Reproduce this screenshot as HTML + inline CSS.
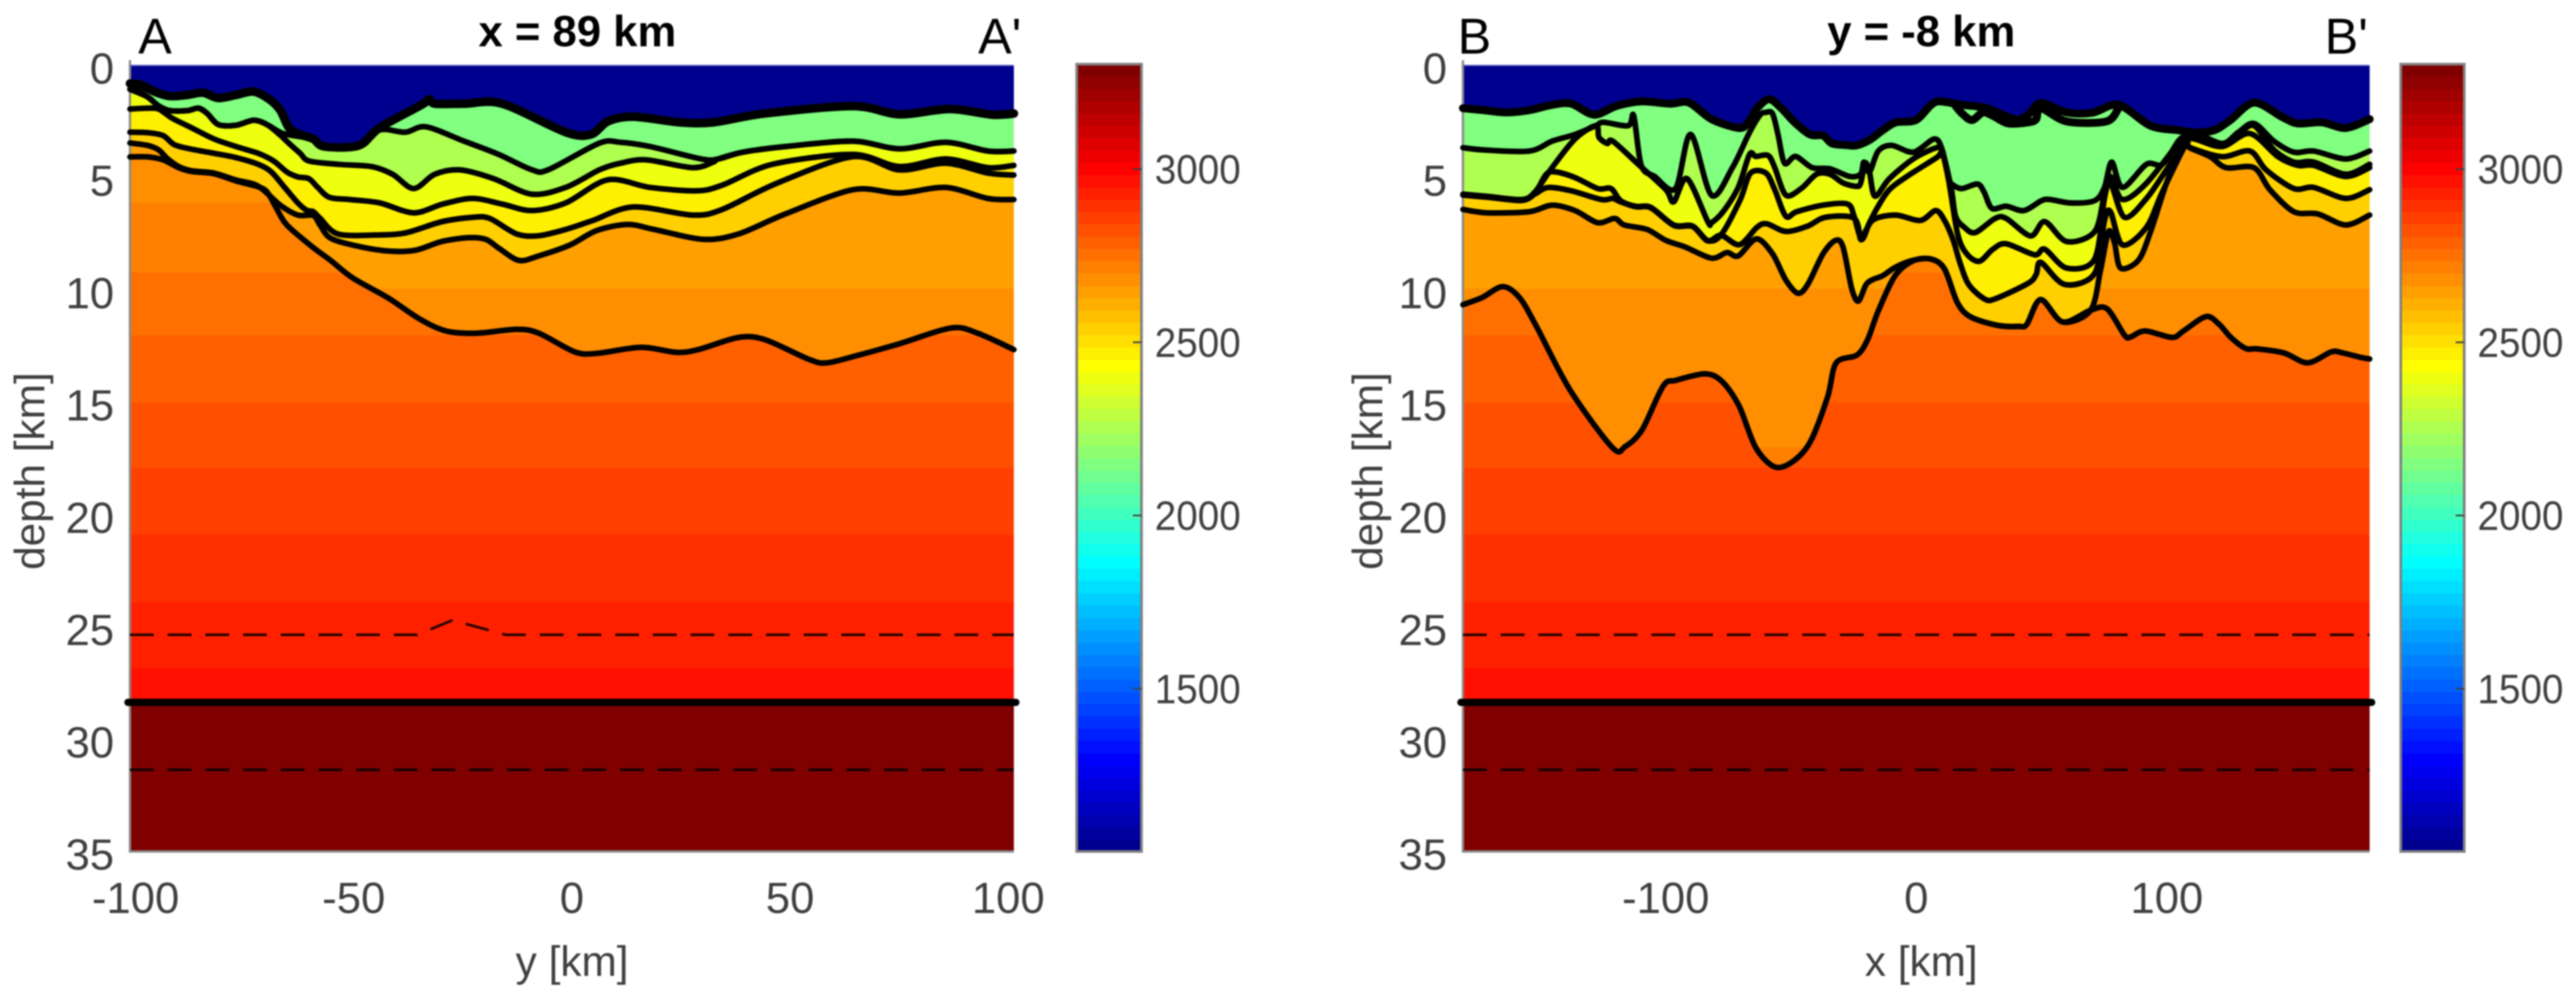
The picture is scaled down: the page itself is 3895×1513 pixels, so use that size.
<!DOCTYPE html>
<html lang="en">
<head>
<meta charset="utf-8">
<title>Velocity cross-sections</title>
<style>
html,body{margin:0;padding:0;background:#fff;}
#figure{display:block;width:3895px;height:1513px;filter:blur(1px);}
text{font-family:"Liberation Sans",Arial,sans-serif;}
.tick{font-size:66px;fill:#404040;}
.cbtick{font-size:62px;fill:#404040;}
.axis-title{font-size:64px;fill:#404040;}
.title{font-size:66px;font-weight:bold;fill:#000;}
.endpoint{font-size:76px;fill:#000;}
</style>
</head>
<body>
<svg id="figure" xmlns="http://www.w3.org/2000/svg" width="3895" height="1513" viewBox="0 0 3895 1513">
  <rect x="0" y="0" width="3895" height="1513" fill="#fff"/>
  <g id="panelA"></g>
  <g id="panelB"></g>
  <text class="title" x="873" y="70" text-anchor="middle">x = 89 km</text>
  <text class="title" x="2905" y="70" text-anchor="middle">y = -8 km</text>
  <text class="endpoint" x="209" y="81">A</text>
  <text class="endpoint" x="1479" y="81">A'</text>
  <text class="endpoint" x="2204" y="81">B</text>
  <text class="endpoint" x="3515" y="81">B'</text>
  <text class="axis-title" x="865" y="1475" text-anchor="middle">y [km]</text>
  <text class="axis-title" x="2905" y="1475" text-anchor="middle">x [km]</text>
  <text class="axis-title" transform="translate(67 712) rotate(-90)" text-anchor="middle">depth [km]</text>
  <text class="axis-title" transform="translate(2090 712) rotate(-90)" text-anchor="middle">depth [km]</text>
</svg>
<script>
/* ---------- shared axis values ---------- */
const depthTicks = [0,5,10,15,20,25,30,35];
const colorbarTicks = [1500,2000,2500,3000];
const xTicksA = [-100,-50,0,50,100];
const xTicksB = [-100,0,100];
const velocityMin = 1030;
const velocityMax = 3303;
const depthMax = 35;

/* ---------- layer velocities (m/s) ---------- */
const waterVelocity = 1048;
const layerVelocities = [2148,2254,2397,2468,2539];
const upperBandDepths = [0,9.93,17,35];
const upperBandVelocities = [2646,2681,2717];
const lowerBandDepths = [0,6.1,9.22,12.02,15,17.91,20.89,23.9,26.84,35];
const lowerBandVelocities = [2681,2717,2752,2788,2823,2859,2894,2930,2965];
const mantleVelocity = 3285;
const mohoDepth = 28.36;

/* ---------- dashed reflectors ---------- */
const dashUpperA = [[-100,25.35],[-35,25.35],[-27,24.7],[-15,25.35],[100,25.35]];
const dashLowerA = [[-100,31.36],[100,31.36]];
const dashUpperB = [[-180,25.35],[180,25.35]];
const dashLowerB = [[-180,31.36],[180,31.36]];

/* ---------- section A horizons: [y km, depth km] ---------- */
const seafloorA = [[-100,.8],[-97.5,.86],[-94.5,1.16],[-91,1.36],[-87,1.31],[-83.5,1.21],[-80,1.45],[-76,1.31],[-72,1.16],[-68.5,1.5],[-66,1.99],[-64,2.78],[-61.5,3.07],[-58.5,3.27],[-56,3.61],[-48.2,3.56],[-43.5,2.77],[-34,1.75],[-32.3,1.5],[-31,1.7],[-24.4,1.7],[-15.8,1.7],[-1.4,2.97],[4.3,3.07],[8.2,2.48],[13.9,2.28],[24.4,2.53],[32,2.53],[43.5,2.14],[63.6,1.81],[74.1,2.17],[85.5,1.94],[95.1,2.19],[100,2.14]];
const horizon1A = [[-100,1.06],[-98,1.16],[-96,1.4],[-93.5,1.8],[-91,2.01],[-87,2.01],[-84.5,1.9],[-82.5,2.14],[-80,2.63],[-76,2.66],[-72,2.44],[-69,2.63],[-65.5,3.02],[-61.5,3.17],[-58.5,3.29],[-55.4,3.64],[-48.2,3.58],[-43.5,2.87],[-37.7,2.97],[-33,2.73],[-24.4,3.37],[-16.7,3.95],[-9.1,4.64],[-5.3,4.64],[6.2,3.46],[11,3.42],[17.7,3.61],[29.2,4.16],[33,4.17],[38.7,3.86],[48.3,3.61],[63.6,3.37],[74.1,3.71],[84.6,3.42],[94.1,3.81],[100,3.81]];
const horizon2A = [[-100,1.06],[-96,1.4],[-93.5,1.8],[-91,2.01],[-87,2.01],[-84.5,1.9],[-82.5,2.14],[-80,2.63],[-76,2.66],[-72,2.44],[-69,2.63],[-66,3.1],[-64,3.47],[-61.5,3.91],[-59.5,4.25],[-53,4.4],[-45.4,4.5],[-40.6,4.84],[-35.8,5.48],[-31,4.84],[-25.3,4.65],[-17.7,5.04],[-9.1,5.73],[-1.4,5.43],[6.2,4.65],[11,4.35],[16.8,4.2],[27.3,4.55],[32,4.3],[33,4.17],[38.7,3.86],[48.3,3.61],[63.6,3.37],[74.1,3.71],[84.6,3.42],[94.1,3.81],[100,3.81]];
const horizon3A = [[-100,1.94],[-96,1.9],[-93.5,1.94],[-90.5,2.34],[-86,2.78],[-81,3.27],[-76,3.61],[-71,3.91],[-67.5,4.25],[-64.5,4.74],[-62,4.96],[-59.5,5.04],[-57.5,5.43],[-54.9,5.87],[-50.2,5.97],[-43.5,6.12],[-35.8,6.56],[-29.2,6.17],[-22.5,5.92],[-15.8,6.17],[-9.1,6.46],[-1.4,6.12],[8.1,5.09],[17.7,5.43],[28.2,5.58],[34,5.33],[45.4,4.4],[63.6,3.96],[74.1,4.5],[84.6,4.16],[94.1,4.55],[100,4.45]];
const horizon4A = [[-100,2.97],[-96,2.99],[-92.5,3.12],[-90,3.52],[-86.5,3.71],[-81,3.91],[-76,4.1],[-71,4.4],[-68,4.74],[-65,5.43],[-62,6.12],[-60,6.45],[-58.5,6.51],[-57,6.8],[-53,7.5],[-44.6,7.55],[-37.6,7.45],[-29.5,6.96],[-22.5,6.76],[-18.6,6.81],[-12.5,7.5],[-7.5,7.58],[-1.4,7.3],[4.6,6.91],[13.9,6.3],[27.3,6.66],[34,6.41],[46.4,5.24],[63.6,4.06],[74.1,4.65],[84.6,4.35],[94.1,4.79],[100,4.88]];
const horizon5A = [[-100,3.45],[-96,3.56],[-93.5,3.76],[-91.5,4.15],[-89,4.5],[-86,4.69],[-81,4.79],[-76,5.1],[-71,5.37],[-66,6.22],[-62,6.66],[-58.5,6.68],[-57,7.1],[-54.6,7.69],[-48.6,8.04],[-41.6,8.26],[-35.5,8.23],[-29.5,7.84],[-23.5,7.67],[-19.5,7.74],[-16.5,8.14],[-12,8.68],[-7.5,8.48],[-0.4,7.99],[5.6,7.35],[12.6,7.08],[18.6,7.3],[29.7,7.74],[37.7,7.5],[48.3,6.61],[63.6,5.53],[74.1,5.68],[84.6,5.43],[94.1,5.92],[100,5.97]];
const basementA = [[-100,4.07],[-96,4.07],[-92.5,4.2],[-89,4.55],[-86,4.72],[-81,4.82],[-76,5.14],[-71,5.4],[-69,5.63],[-67,6.3],[-64.5,7.1],[-58.7,8.08],[-54.6,8.68],[-49.6,9.46],[-41.6,10.35],[-34.5,11.28],[-28.5,11.82],[-21.5,11.92],[-12.5,11.75],[-7.5,11.92],[0.6,12.75],[5.6,12.82],[15.6,12.55],[23.6,12.77],[28.6,12.65],[37.7,12.11],[43.7,12.21],[53.7,13.09],[57.7,13.24],[64.8,12.9],[73.8,12.41],[85.8,11.69],[91.8,11.92],[100,12.65]];

/* ---------- section B horizons: [x km, depth km] ---------- */
const seafloorB = [[-180,1.9],[-171.7,1.99],[-162.7,2.09],[-153.6,1.99],[-144.6,1.75],[-137,1.7],[-128,2.19],[-119,1.8],[-109.2,1.6],[-97.8,1.7],[-90.3,1.65],[-81.3,2.39],[-70.5,2.78],[-66.7,2.53],[-63.2,1.9],[-58.4,1.5],[-53.6,1.9],[-48.3,2.53],[-42.2,3.07],[-37,3.12],[-33.5,3.47],[-28.2,3.54],[-23.8,3.56],[-18.6,3.32],[-13.3,2.88],[-8.1,2.53],[-0.2,2.43],[5.9,1.75],[9.4,1.6],[18.2,1.75],[28,1.9],[39.1,2.4],[44.4,2.19],[49.5,1.67],[59.7,2.09],[70,2.1],[80.3,1.75],[93,2.68],[104,2.88],[110.4,2.98],[118.3,2.88],[124.6,2.44],[134.1,1.65],[145.2,2.29],[151.5,2.58],[161,2.53],[170.5,2.78],[180,2.39]];
const shallowB = [[15.6,1.8],[18.2,2.14],[22.1,2.43],[26.5,2.09],[30.4,2.24],[36.6,2.58],[44.4,2.53],[47.5,2.4],[49.5,1.9],[59.7,2.49],[75.5,2.49],[80.3,1.9]];
const horizon1B = [[-180,3.66],[-171.7,3.76],[-153.6,3.81],[-144.6,3.37],[-135.5,3.07],[-127.2,2.68],[-124.2,2.53],[-114.4,2.68],[-112.2,2.24],[-109.2,4.45],[-103.9,4.94],[-95.6,5.48],[-89.6,3.07],[-81.3,5.78],[-73,4.55],[-66.2,2.98],[-62,2.2],[-59.7,2.09],[-57.1,2.14],[-54.9,3.07],[-52.3,4.35],[-47.9,4.05],[-41.3,4.55],[-34.3,4.6],[-26.5,4.94],[-22.1,4.84],[-20.8,4.3],[-18.6,4.74],[-15.1,3.81],[-9.8,3.56],[-1.1,3.86],[7.2,3.27],[10.3,3.76],[12.9,5.04],[14.7,5.33],[18.2,5.48],[24.3,5.28],[26.9,5.63],[30,6.36],[35.7,6.27],[42.7,6.46],[49.7,6.02],[53.2,5.97],[61.3,6.12],[70.8,6.02],[74.7,5.43],[77.6,4.3],[81.9,5.43],[91.4,4.4],[97.7,4.4],[104,3.37],[106.4,3.17],[110.4,2.98],[121.4,3.47],[127.8,2.98],[134.1,2.58],[142,3.37],[149.9,3.86],[157.8,3.81],[170.5,4.16],[180,3.81]];
const horizon2B = [[-180,5.73],[-170.2,5.83],[-156.6,5.97],[-151.4,5.63],[-144.6,4.55],[-135.5,3.27],[-127.2,2.68],[-126,3.2],[-122.7,3.47],[-120.5,3.37],[-109.9,4.45],[-99.4,5.53],[-96.3,6.07],[-91,5.04],[-82.8,6.95],[-81.3,7],[-76.7,6.51],[-70.7,5.43],[-66.2,3.96],[-63.7,4.05],[-58.8,4.01],[-56.2,4.55],[-51.8,5.77],[-45.7,5.48],[-39.6,4.84],[-34.3,4.84],[-29.1,5.23],[-23.8,5.38],[-22.1,5.24],[-20.3,4.35],[-18.6,4.74],[-16.4,5.82],[-10.7,5.04],[-1.1,4.15],[8.1,3.66],[10.3,3.81],[13.8,5.43],[15.6,6.71],[19,7.2],[23.4,7.44],[31.3,6.81],[35.7,6.81],[45.4,7.59],[51,6.95],[59.7,7.84],[70.8,7.4],[74.7,5.73],[77.1,4.94],[81.9,5.97],[91.4,5.24],[105.6,3.27],[110.4,3.1],[121.4,3.57],[127.8,3.07],[134.1,2.68],[142,3.76],[149.9,4.3],[157.8,4.3],[170.5,4.84],[180,4.4]];
const horizon3B = [[-180,5.75],[-170.2,5.85],[-156.6,5.99],[-151.4,5.68],[-146.9,4.84],[-143.1,4.74],[-135.5,4.99],[-126.5,5.48],[-121.2,5.48],[-117.4,6.02],[-111.4,6.27],[-105.4,6.32],[-96.3,7.1],[-88.8,7.15],[-82.8,7.79],[-77.5,7.54],[-70,6],[-65.8,4.79],[-59.7,4.79],[-56.2,5.53],[-51.8,6.71],[-47.5,6.51],[-37,6.22],[-27.3,6.17],[-24.7,6.71],[-21.7,7.74],[-18.6,7],[-15.1,6.26],[-10.7,5.53],[-3.7,4.94],[8.1,4.1],[10.3,3.9],[12.9,5.14],[16.4,7.5],[19.9,8.37],[25,8.72],[30.4,8.18],[35.7,7.94],[47,8.43],[51,8.18],[59.7,9.02],[70.8,8.62],[74.7,5.92],[77.1,5.24],[82.7,6.76],[91.4,5.92],[99.3,4.65],[107.2,3.37],[110.4,3.27],[121.4,3.61],[132.5,3.03],[143.6,4.06],[151.5,4.45],[157.8,4.45],[170.5,4.94],[180,4.55]];
const horizon4B = [[-180,5.77],[-170.2,5.87],[-156.6,6.01],[-151.4,5.72],[-146.1,5.43],[-137,5.58],[-125,5.97],[-120.5,5.92],[-117.4,6.07],[-111.4,6.29],[-105.4,6.34],[-96.3,7.12],[-88.8,7.17],[-82.8,7.81],[-77.5,7.56],[-70.2,7.98],[-63.2,7.2],[-59.3,7.05],[-51.8,7.39],[-43.1,7.15],[-36.1,6.76],[-24.7,6.8],[-22.1,7.74],[-20.3,7.4],[-16.8,6.85],[-8.1,6.66],[1.6,6.9],[7.7,6.46],[11.2,6.9],[14.7,7.79],[17.3,8.77],[20.8,9.75],[27,10.39],[31.3,10.39],[44.4,9.7],[47.6,9.3],[49.5,8.77],[58.9,9.75],[70.8,9.26],[74.7,6.91],[77.1,6.51],[81.9,7.99],[91.4,7.2],[97.7,5.63],[107.2,3.47],[108.8,3.66],[121.4,4.06],[132.5,3.81],[138.9,4.65],[149.9,5.48],[157.8,5.43],[170.5,5.92],[180,5.53]];
const horizon5B = [[-180,6.41],[-170.2,6.56],[-153.6,6.51],[-144.6,6.22],[-135.5,6.46],[-126.5,7],[-119.7,6.81],[-116,7.1],[-106.9,7.3],[-99.4,7.79],[-91.8,8.08],[-81.3,8.58],[-75.2,8.33],[-70.7,8.48],[-63.5,7.72],[-57.1,8.38],[-51.8,9.55],[-47,10.14],[-43.1,9.75],[-37,8.38],[-32.1,7.79],[-29.1,8.08],[-25.6,9.95],[-23,10.49],[-19.9,9.75],[-16.8,9.51],[-13.3,9.36],[-8.1,8.97],[-1.1,8.67],[5.9,8.62],[11.2,9.06],[16.4,10.58],[21.7,11.2],[32.2,11.57],[40.7,11.62],[43.9,11.52],[49.4,10.42],[58.1,11.42],[69.2,10.9],[73.2,9.07],[76.3,7.4],[78.7,7.89],[81.1,9.02],[88.2,8.67],[93,7.4],[99.3,5.24],[105.6,3.47],[108.8,3.68],[116.7,4.06],[123,4.55],[134.1,4.55],[140.4,5.53],[149.9,6.51],[159.4,6.61],[170.5,7.1],[180,6.66]];
const basementB = [[-180,10.65],[-172.5,10.34],[-164.2,9.85],[-157.5,10.34],[-150.8,11.62],[-137.4,14.46],[-120.6,17.02],[-115.6,16.97],[-108.9,16.23],[-100.5,14.27],[-95.5,14.02],[-83.8,13.73],[-77.1,14.07],[-70.4,15.15],[-63.7,17.02],[-56.1,17.88],[-48.6,17.6],[-41.9,16.72],[-35.2,14.76],[-31.8,13.24],[-23.5,12.89],[-19.3,12.2],[-15.1,10.93],[-8.4,9.36],[-1.1,8.69],[5.9,8.62],[11.2,9.06],[16.4,10.58],[21.7,11.2],[32.2,11.57],[40.7,11.62],[43.9,11.52],[49.4,10.42],[58.1,11.42],[69.2,10.9],[75.7,10.83],[82.7,12.01],[85,12.09],[90.9,11.82],[101.5,12.11],[106.1,11.82],[115,11.18],[120.2,11.52],[124.9,12.11],[130.8,12.6],[135.5,12.62],[146,12.8],[155.4,13.24],[164.8,12.75],[169.4,12.8],[176.5,13],[180,13.07]];

/* ---------- rendering ---------- */
const NS = 'http://www.w3.org/2000/svg';
const plotTop = 99, plotBottom = 1287;
const cbTop = 97, cbBottom = 1287;

function depthScale(d){ return plotTop + d*(plotBottom-plotTop)/depthMax; }
function velocityScale(v){ return cbBottom - (v-velocityMin)*(cbBottom-cbTop)/(velocityMax-velocityMin); }
function clamp01(a){ return Math.max(0,Math.min(1,a)); }
function jetLevel(v){
  return Math.max(1,Math.min(64,Math.ceil((v-velocityMin)/(velocityMax-velocityMin)*64)));
}
function jet(v){
  const t = jetLevel(v)/64;
  const r = clamp01(1.5-Math.abs(4*t-3));
  const g = clamp01(1.5-Math.abs(4*t-2));
  const b = clamp01(1.5-Math.abs(4*t-1));
  return 'rgb('+Math.round(r*255)+','+Math.round(g*255)+','+Math.round(b*255)+')';
}
function make(tag, parent, attrs){
  const el = document.createElementNS(NS, tag);
  for (const k in attrs) el.setAttribute(k, attrs[k]);
  parent.appendChild(el);
  return el;
}
function smoothPath(points){
  let d = 'M'+points[0][0].toFixed(1)+' '+points[0][1].toFixed(1);
  for (let i=0;i<points.length-1;i++){
    const p0 = points[Math.max(i-1,0)], p1 = points[i], p2 = points[i+1], p3 = points[Math.min(i+2,points.length-1)];
    const c1x = p1[0]+(p2[0]-p0[0])/6.5, c1y = p1[1]+(p2[1]-p0[1])/6.5;
    const c2x = p2[0]-(p3[0]-p1[0])/6.5, c2y = p2[1]-(p3[1]-p1[1])/6.5;
    d += 'C'+c1x.toFixed(1)+' '+c1y.toFixed(1)+' '+c2x.toFixed(1)+' '+c2y.toFixed(1)+' '+p2[0].toFixed(1)+' '+p2[1].toFixed(1);
  }
  return d;
}

function drawPanel(cfg){
  const root = document.getElementById(cfg.rootId);
  const xScale = km => cfg.left + (km-cfg.xMin)*(cfg.right-cfg.left)/(cfg.xMax-cfg.xMin);
  const toPx = list => list.map(p => [xScale(p[0]), depthScale(p[1])]);
  const w = cfg.right-cfg.left;

  const water = make('rect', root, {x:cfg.left,y:plotTop,width:w,height:plotBottom-plotTop,fill:jet(waterVelocity)});
  
  

  function fillBelow(line, paint, name, id){
    const px = toPx(line);
    const d = smoothPath(px)+'L'+cfg.right+' '+plotBottom+'L'+cfg.left+' '+plotBottom+'Z';
    if (paint){
      const area = make('path', root, {d:d,fill:paint});
      
      
    } else {
      const defs = make('defs', root, {});
      const clip = make('clipPath', defs, {id:id});
      make('path', clip, {d:d});
    }
  }

  /* sedimentary layers */
  cfg.lines.forEach((line,i)=>{
    if (i < layerVelocities.length) fillBelow(line, jet(layerVelocities[i]), 'sediment-layer');
  });

  /* deepest sediment layer with depth bands */
  function bandStack(line, depths, velocities, id, name){
    fillBelow(line, null, name, id);
    const g = make('g', root, {'clip-path':'url(#'+id+')'});
    
    
    velocities.forEach((v,i)=>{
      const top = depthScale(depths[i]), bot = depthScale(depths[i+1]);
      const band = make('rect', g, {x:cfg.left,y:top,width:w,height:bot-top+0.5,fill:jet(v)});
      
      
    });
  }
  bandStack(cfg.lines[5], upperBandDepths, upperBandVelocities, cfg.rootId+'-upper', 'upper-sediment-bands');
  bandStack(cfg.basement, lowerBandDepths, lowerBandVelocities, cfg.rootId+'-lower', 'basement-bands');

  const mantle = make('rect', root, {x:cfg.left,y:depthScale(mohoDepth),width:w,height:plotBottom-depthScale(mohoDepth),fill:jet(mantleVelocity)});
  
  

  /* axes frame */
  const frame = make('path', root, {d:'M'+cfg.left+' '+(plotTop-8)+'V'+plotBottom+'H'+cfg.right, fill:'none', stroke:'#8a8a8a','stroke-width':3.5});
  
  
  const topEdge = make('path', root, {d:'M'+cfg.left+' '+plotTop+'H'+cfg.right, fill:'none', stroke:'#5a5ac0','stroke-width':2});
  
  

  /* horizon strokes */
  [cfg.seafloor].concat(cfg.extra).forEach(line=>{
    const sea = make('path', root, {d:smoothPath(toPx(line)),fill:'none',stroke:'#000','stroke-width':cfg.seafloorWidth,'stroke-linejoin':'round','stroke-linecap':'round'});
    
    
  });
  cfg.lines.concat([cfg.basement]).forEach(line=>{
    const hz = make('path', root, {d:smoothPath(toPx(line)),fill:'none',stroke:'#000','stroke-width':8.5,'stroke-linejoin':'round','stroke-linecap':'round'});
    
    
  });
  const moho = make('line', root, {x1:cfg.left-3,x2:cfg.right+3,y1:depthScale(mohoDepth),y2:depthScale(mohoDepth),stroke:'#000','stroke-width':11,'stroke-linecap':'round'});
  
  
  cfg.dashes.forEach(line=>{
    const px = toPx(line);
    const dash = make('polyline', root, {points:px.map(p=>p.join(',')).join(' '),fill:'none',stroke:'#000','stroke-width':4,'stroke-dasharray':'36 21','stroke-opacity':0.85});
    
    
  });

  /* tick labels */
  depthTicks.forEach(t=>{
    const lab = make('text', root, {x:cfg.left-24,y:depthScale(t)+27.5,'text-anchor':'end','class':'tick'});
    lab.textContent = t;
    
    
  });
  cfg.xTicks.forEach(t=>{
    const lab = make('text', root, {x:xScale(t)+cfg.labelShift(t),y:1380,'text-anchor':'middle','class':'tick'});
    lab.textContent = t;
    
    
  });

  /* colour bar drawn from the 64-level jet map */
  const step = (velocityMax-velocityMin)/64;
  for (let k=1;k<=64;k++){
    const v = velocityMin+(k-0.5)*step;
    const yTop = velocityScale(velocityMin+k*step);
    const yBot = velocityScale(velocityMin+(k-1)*step);
    const seg = make('rect', root, {x:cfg.cbLeft,y:yTop,width:cfg.cbRight-cfg.cbLeft,height:yBot-yTop+0.5,fill:jet(v)});
    
    
  }
  const outline = make('rect', root, {x:cfg.cbLeft,y:cbTop,width:cfg.cbRight-cfg.cbLeft,height:cbBottom-cbTop,fill:'none',stroke:'#808080','stroke-width':4});
  
  
  colorbarTicks.forEach(t=>{
    const tick = make('line', root, {x1:cfg.cbRight-13,x2:cfg.cbRight,y1:velocityScale(t),y2:velocityScale(t),stroke:'#404040','stroke-width':2.5});
    
    
    const lab = make('text', root, {x:cfg.cbRight+20,y:velocityScale(t)+22,'class':'cbtick',textLength:130,lengthAdjust:'spacingAndGlyphs'});
    lab.textContent = t;
    
    
  });
}

drawPanel({
  rootId:'panelA', left:196.5, right:1533, xMin:-100, xMax:100,
  xTicks:xTicksA, labelShift:t=>-t*0.085,
  seafloor:seafloorA, extra:[], seafloorWidth:13,
  lines:[seafloorA,horizon1A,horizon2A,horizon3A,horizon4A,horizon5A],
  basement:basementA, dashes:[dashUpperA,dashLowerA],
  cbLeft:1628, cbRight:1726
});
drawPanel({
  rootId:'panelB', left:2212, right:3583, xMin:-180, xMax:180,
  xTicks:xTicksB, labelShift:t=>-t*0.02,
  seafloor:seafloorB, extra:[shallowB], seafloorWidth:12,
  lines:[seafloorB,horizon1B,horizon2B,horizon3B,horizon4B,horizon5B],
  basement:basementB, dashes:[dashUpperB,dashLowerB],
  cbLeft:3630, cbRight:3726
});
</script>
</body>
</html>
